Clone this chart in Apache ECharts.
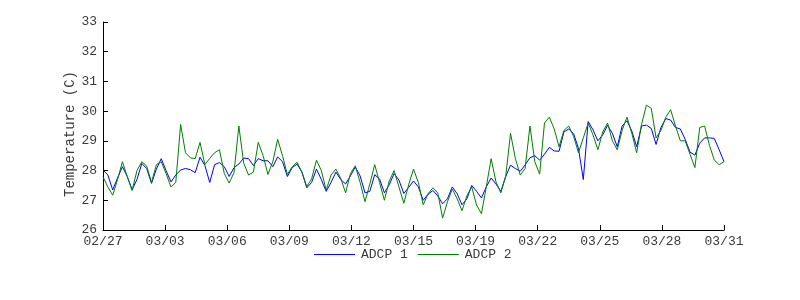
<!DOCTYPE html>
<html><head><meta charset="utf-8">
<script src="https://cdn.jsdelivr.net/npm/echarts@6/dist/echarts.min.js"></script>
<style>html,body{margin:0;padding:0;background:#fff}#c{width:800px;height:300px}</style>
</head><body><div id="c"></div>
<script>
// x tick labels (MATLAB datetick style, evenly spaced every 3.2 days)
const tickLabels = ['02/27','03/03','03/06','03/09','03/12','03/15','03/19','03/22','03/25','03/28','03/31'];
const tickStepDays = 3.2;
const spanDays = 32;
const yLabel = 'Temperature (C)';
const seriesNames = ['ADCP 1', 'ADCP 2'];
// samples every 6 hours starting at the left axis edge
const sampleStepDays = 0.25;

const adcp1 = [
28.02,27.85,27.35,27.75,28.13,27.8,27.35,27.7,28.24,28.07,
27.57,28.05,28.4,28.0,27.62,27.85,28.02,28.07,28.03,27.93,
28.45,28.17,27.6,28.2,28.27,28.13,27.8,28.1,28.22,28.42,
28.4,28.17,28.4,28.33,28.33,28.13,28.46,28.3,27.8,28.1,
28.22,27.95,27.42,27.6,28.05,27.7,27.3,27.6,27.95,27.7,
27.55,27.82,28.12,27.82,27.25,27.3,27.86,27.72,27.25,27.52,
27.9,27.68,27.23,27.43,27.65,27.45,27.0,27.2,27.33,27.15,
26.88,27.05,27.45,27.22,26.85,27.05,27.5,27.3,27.08,27.45,
27.75,27.55,27.3,27.8,28.18,28.07,27.98,28.19,28.43,28.5,
28.35,28.55,28.78,28.66,28.65,29.3,29.4,29.24,28.75,27.7,
29.65,29.37,29.0,29.2,29.52,29.25,28.8,29.5,29.68,29.33,
28.8,29.5,29.53,29.42,28.88,29.45,29.75,29.7,29.45,29.4,
29.05,28.62,28.52,28.92,29.1,29.1,29.08,28.7,28.3
];
const adcp2 = [
27.79,27.45,27.17,27.7,28.3,27.8,27.33,28.0,28.3,28.15,
27.6,28.2,28.3,27.9,27.45,27.6,29.55,28.6,28.43,28.4,
28.95,28.2,28.41,28.6,28.7,27.9,27.58,27.93,29.5,28.25,
27.85,27.95,28.95,28.5,27.87,28.3,29.05,28.5,27.87,28.13,
28.28,27.95,27.46,27.72,28.35,28.0,27.34,27.85,28.05,27.74,
27.25,27.9,28.16,27.6,26.95,27.55,28.2,27.6,27.0,27.65,
28.0,27.45,26.9,27.52,28.05,27.6,26.85,27.22,27.42,27.25,
26.4,26.95,27.38,27.05,26.65,27.15,27.45,26.84,26.55,27.45,
28.4,27.62,27.25,27.8,29.25,28.4,27.85,28.07,29.5,28.3,
27.88,29.6,29.8,29.4,28.8,29.35,29.5,29.15,28.6,29.1,
29.6,29.2,28.7,29.3,29.6,29.0,28.7,29.35,29.8,29.25,
28.6,29.55,30.2,30.1,29.1,29.35,29.8,30.05,29.5,29.0,
29.0,28.55,28.1,29.45,29.5,28.85,28.35,28.2,28.3
];

const toPairs = arr => arr.map((v, i) => [i * sampleStepDays, v]);

const font = 'Liberation Mono, Courier New, monospace';
const textColor = '#3a3a3a';
const chart = echarts.init(document.getElementById('c'), null, {renderer: 'canvas'});
chart.setOption({
  animation: false,
  backgroundColor: '#fff',
  grid: {left: 103, right: 76, top: 22, bottom: 70},
  xAxis: {
    type: 'value', min: 0, max: spanDays, interval: tickStepDays,
    axisLine: {show: true, lineStyle: {color: '#000', width: 1}},
    axisTick: {show: true, inside: true, length: 5, lineStyle: {color: '#000'}},
    splitLine: {show: false},
    axisLabel: {
      margin: 5, color: textColor, fontFamily: font, fontSize: 13,
      formatter: v => tickLabels[Math.round(v / tickStepDays)] || ''
    }
  },
  yAxis: {
    type: 'value', min: 26, max: 33, interval: 1,
    axisLine: {show: true, lineStyle: {color: '#000', width: 1}},
    axisTick: {show: true, inside: true, length: 5, lineStyle: {color: '#000'}},
    splitLine: {show: false},
    axisLabel: {margin: 6, color: textColor, fontFamily: font, fontSize: 13}
  },
  graphic: [{
    type: 'text', x: 70, y: 134, rotation: Math.PI / 2,
    style: {text: yLabel, fill: textColor, font: '14px ' + font,
            align: 'center', verticalAlign: 'middle',
            textAlign: 'center', textVerticalAlign: 'middle'}
  }],
  legend: {
    top: 243, left: 309, icon: 'rect', itemWidth: 41, itemHeight: 1, itemGap: 10,
    textStyle: {color: textColor, fontFamily: font, fontSize: 13, padding: [0, 0, 0, 1]},
    data: seriesNames
  },
  series: [
    {name: seriesNames[0], type: 'line', data: toPairs(adcp1), showSymbol: false, symbol: 'none',
     lineStyle: {color: '#0000ff', width: 1}, itemStyle: {color: '#0000ff'}},
    {name: seriesNames[1], type: 'line', data: toPairs(adcp2), showSymbol: false, symbol: 'none',
     lineStyle: {color: '#008000', width: 1}, itemStyle: {color: '#008000'}}
  ]
});
</script>
</body></html>
